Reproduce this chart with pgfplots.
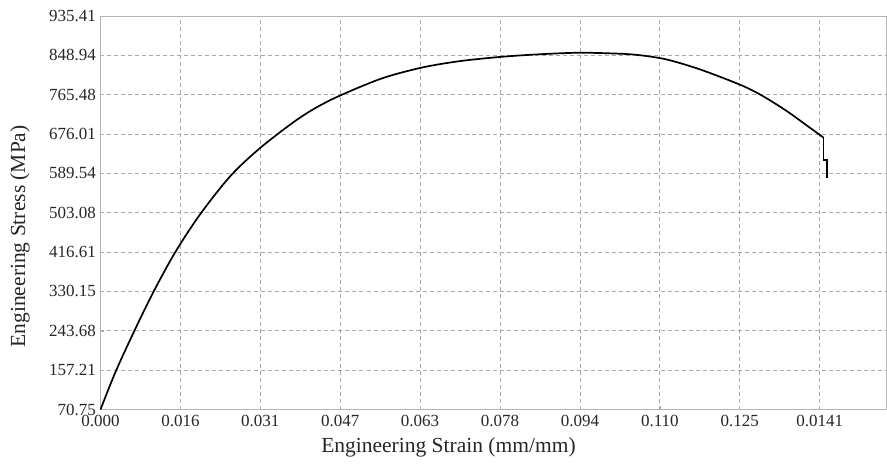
\documentclass[border=0pt]{standalone}
\usepackage{pgfplots}
\pgfplotsset{compat=1.18}
\usepackage{fontspec}
\setmainfont{Liberation Serif}
\definecolor{axgray}{HTML}{B4B4B4}
\definecolor{gridgray}{HTML}{A8A8A8}
\begin{document}
\begin{tikzpicture}
\begin{axis}[
  at={(0pt,0pt)}, anchor=south west,
  scale only axis,
  width=785.5pt, height=393.5pt,
  xmin=0, xmax=0.1536,
  ymin=70.75, ymax=935.41,
  axis line style={axgray, line width=0.9pt},
  xtick={0,0.015625,0.03125,0.046875,0.0625,0.078125,0.09375,0.109375,0.125,0.140625},
  xticklabels={0.000,0.016,0.031,0.047,0.063,0.078,0.094,0.110,0.125,0.0141},
  ytick={70.75,157.216,243.682,330.148,416.614,503.08,589.546,676.012,762.478,848.944,935.41},
  yticklabels={70.75,157.21,243.68,330.15,416.61,503.08,589.54,676.01,765.48,848.94,935.41},
  tick style={axgray, line width=0.6pt},
  major tick length=4pt,
  tick align=inside,
  xtick pos=bottom, ytick pos=left,
  grid=major,
  major grid style={gridgray, dashed, dash pattern=on 4pt off 3pt, line width=0.7pt},
  ticklabel style={font=\fontsize{17}{19}\selectfont, text=black!85},
  xticklabel style={yshift=-2pt},
  yticklabel style={xshift=-1pt},
  xlabel={Engineering Strain (mm/mm)},
  ylabel={Engineering Stress (MPa)},
  label style={font=\fontsize{21.5}{24}\selectfont, text=black!85},
  xlabel style={at={(axis description cs:0.443,-0.0953)}, anchor=center},
  ylabel style={at={(axis description cs:-0.1025,0.44)}, anchor=center},
  clip=false,
]
\addplot[black, line width=1.7pt, smooth, tension=0.5, line join=round] coordinates {
(0,70.75)
(0.003,155)
(0.0066,243)
(0.0103,328)
(0.0146,416)
(0.0195,500)
(0.0255,585)
(0.0315,648)
(0.039,712)
(0.0452,752)
(0.0547,797)
(0.0628,822)
(0.0703,836.3)
(0.0785,845.8)
(0.086,851.4)
(0.0938,854.7)
(0.1016,852.5)
(0.1055,849.2)
(0.1107,839.9)
(0.1173,817.8)
(0.1253,783.3)
(0.1296,758.9)
(0.1342,726.5)
(0.1381,695)
(0.1414,668)
};
\addplot[black, line width=1.7pt, line join=miter] coordinates {
(0.1414,668)
(0.1414,618.7)
(0.1420,618.7)
(0.1420,580.5)
};
\end{axis}
\pgfresetboundingbox
\path (-100.5pt,-54.5pt) rectangle (786.5pt,409.5pt);
\end{tikzpicture}
\end{document}
